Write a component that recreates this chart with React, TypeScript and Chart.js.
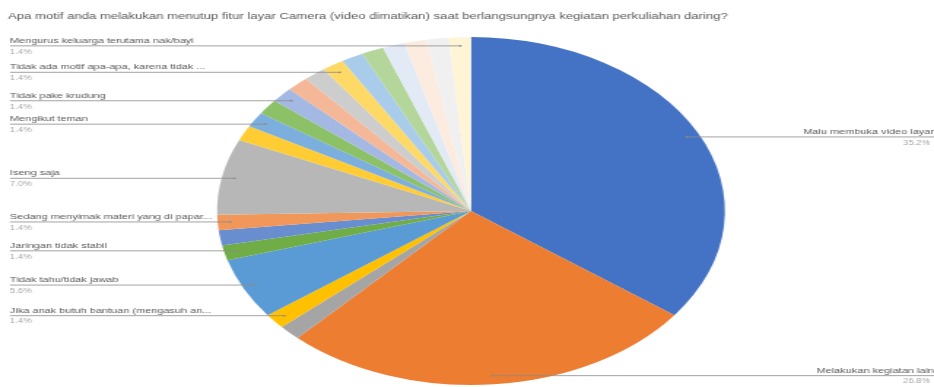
import React, { useEffect, useRef } from "react";
import { Chart, registerables } from "chart.js";

Chart.register(...registerables);

const title =
  "Apa motif anda melakukan menutup fitur layar Camera (video dimatikan) saat berlangsungnya kegiatan perkuliahan daring?";

// Slice names (only the ones shown in the reference carry a label)
const categories: string[] = [
  "Malu membuka video layar",
  "Melakukan kegiatan lain",
  "",
  "Jika anak butuh bantuan (mengasuh an...",
  "Tidak tahu/tidak jawab",
  "Jaringan tidak stabil",
  "",
  "Sedang menyimak materi yang di papar...",
  "Iseng saja",
  "",
  "Mengikut teman",
  "",
  "Tidak pake krudung",
  "",
  "",
  "Tidak ada motif apa-apa, karena tidak ...",
  "",
  "",
  "",
  "",
  "",
  "Mengurus keluarga terutama nak/bayi",
];

// Respondent counts (35.2%, 26.8%, 5.6%, 7.0%, 1.4% each)
const counts: number[] = [25, 19, 1, 1, 4, 1, 1, 1, 5, 1, 1, 1, 1, 1, 1, 1, 1, 1, 1, 1, 1, 1];

const labelSide: string[] = [
  "R", "R", "", "L", "L", "L", "", "L", "L", "", "L", "", "L", "", "", "L", "", "", "", "", "", "L",
];

const colors: string[] = [
  "#4472C4", "#ED7D31", "#A5A5A5", "#FFC000", "#5B9BD5", "#70AD47",
  "#698ED0", "#F1975A", "#B7B7B7", "#FFCD33", "#7CAFDD", "#8CC168",
  "#A3B8E3", "#F4B899", "#CDCDCD", "#FFD966", "#A8CCEA", "#B4D69B",
  "#E2EAF6", "#FCEBDF", "#F0F0F0", "#FFF4D6",
];

const W = 640;
const H = 387;
const S = 934 / W;

export default function App() {
  const ref = useRef<HTMLCanvasElement>(null);

  useEffect(() => {
    if (!ref.current) return;
    const total = counts.reduce((a, b) => a + b, 0);
    const labelPlugin = {
      id: "excelLabels",
      afterDatasetsDraw(chart: any) {
        const ctx = chart.ctx as CanvasRenderingContext2D;
        ctx.save();
        // title
        ctx.fillStyle = "#595959";
        ctx.font = "9px 'Liberation Sans', Arial, sans-serif";
        ctx.textAlign = "left";
        ctx.textBaseline = "middle";
        ctx.fillText(title, 8 / S, 17);

        const meta = chart.getDatasetMeta(0);
        meta.data.forEach((arc: any, i: number) => {
          const name = categories[i];
          if (!name) return;
          const p = arc.getProps(["x", "y", "startAngle", "endAngle", "outerRadius"], true);
          const mid = (p.startAngle + p.endAngle) / 2;
          const px = p.x + Math.cos(mid) * p.outerRadius * 0.95;
          const py = p.y + Math.sin(mid) * p.outerRadius * 0.95;
          const pct = ((counts[i] / total) * 100).toFixed(1) + "%";
          const left = labelSide[i] === "L";
          const edgeX = left ? 10 / S : W;
          ctx.strokeStyle = "#8C8C8C";
          ctx.lineWidth = 0.8;
          ctx.beginPath();
          ctx.moveTo(edgeX, py);
          ctx.lineTo(px, py);
          ctx.stroke();
          ctx.fillStyle = "#8C8C8C";
          ctx.beginPath();
          ctx.arc(px, py, 0.9, 0, Math.PI * 2);
          ctx.fill();

          ctx.textBaseline = "middle";
          ctx.textAlign = left ? "left" : "right";
          const tx = left ? 10 / S : 934 / S;
          ctx.fillStyle = "#595959";
          ctx.font = "7.5px 'Liberation Sans', Arial, sans-serif";
          ctx.fillText(name, tx, py - 5);
          ctx.fillStyle = "#A6A6A6";
          ctx.font = "6.5px 'Liberation Sans', Arial, sans-serif";
          ctx.fillText(pct, left ? tx : 930 / S, py + 6);
        });
        ctx.restore();
      },
    };

    const cx = 471 / S;
    const r = 174;
    const chart = new Chart(ref.current, {
      type: "pie",
      data: {
        labels: categories,
        datasets: [
          {
            data: counts,
            backgroundColor: colors,
            borderWidth: 0,
            hoverOffset: 0,
          },
        ],
      },
      options: {
        responsive: false,
        animation: false,
        devicePixelRatio: 1,
        layout: {
          padding: { left: cx - r, right: W - (cx + r), top: 37, bottom: H - 37 - 2 * r },
        },
        plugins: {
          legend: { display: false },
          tooltip: { enabled: false },
          title: { display: false },
        },
      },
      plugins: [labelPlugin],
    });
    return () => chart.destroy();
  }, []);

  return (
    <div
      style={{
        position: "fixed",
        left: 0,
        top: 0,
        width: 934,
        height: 387,
        overflow: "hidden",
        background: "#ffffff",
      }}
    >
      <div
        style={{
          width: W,
          height: H,
          transform: `scaleX(${S})`,
          transformOrigin: "0 0",
        }}
      >
        <canvas ref={ref} width={W} height={H} style={{ width: W, height: H, display: "block" }} />
      </div>
    </div>
  );
}
